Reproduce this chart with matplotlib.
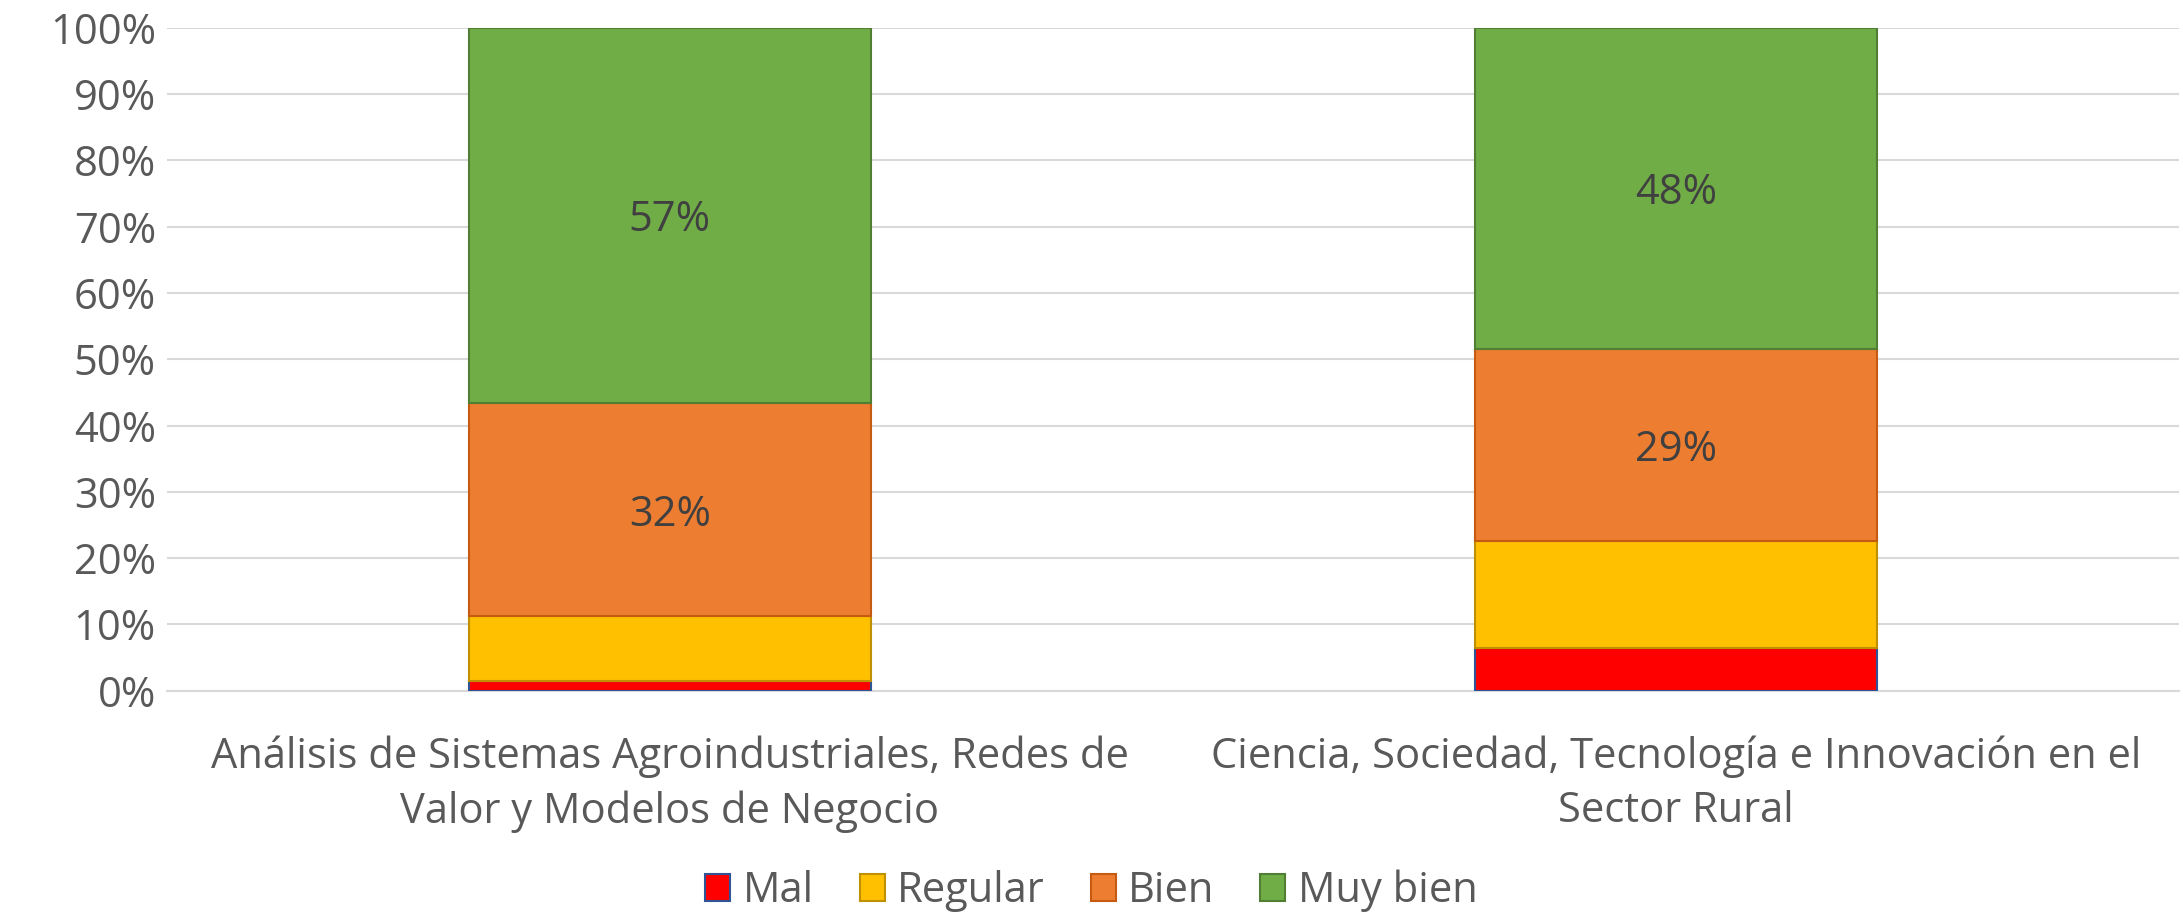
import matplotlib
matplotlib.use("Agg")
import matplotlib.pyplot as plt
import numpy as np

categories = ["Análisis de Sistemas Agroindustriales, Redes de\nValor y Modelos de Negocio",
              "Ciencia, Sociedad, Tecnología e Innovación en el\nSector Rural"]
series_names = ["Mal", "Regular", "Bien", "Muy bien"]
mal = [1.4, 6.5]
regular = [9.8, 16.1]
bien = [32.2, 29.0]
muy_bien = [56.6, 48.4]
show_labels = [False, False, True, True]

colors = ["#FF0000", "#FFC000", "#ED7D31", "#70AD47"]
edges = ["#2F5597", "#BF9000", "#C55A11", "#507E32"]

plt.rcParams['font.family'] = ['Open Sans', 'DejaVu Sans']
txt = "#595959"
fs = 30

fig = plt.figure(figsize=(21.83, 9.13), dpi=100)
ax = fig.add_axes([0.0765, 0.2435, 0.9215, 0.726])

x = np.arange(len(categories))
bottom = np.zeros(len(categories))
for vals, name, c, e, lab in zip([mal, regular, bien, muy_bien], series_names, colors, edges, show_labels):
    vals = np.array(vals)
    ax.bar(x, vals, 0.4, bottom=bottom, color=c, edgecolor=e, linewidth=1.5, label=name, zorder=3)
    if lab:
        for xi, v, bt in zip(x, vals, bottom):
            ax.text(xi, bt + v / 2, f"{v:.0f}%", ha="center", va="center_baseline",
                    fontsize=fs, color="#404040", zorder=4)
    bottom += vals

ax.set_xlim(-0.5, 1.5)
ax.set_ylim(0, 100)
ax.set_yticks(np.arange(0, 101, 10))
ax.set_yticklabels([f"{t}%" for t in range(0, 101, 10)])
ax.set_xticks(x)
ax.set_xticklabels(categories)
ax.tick_params(axis="both", length=0, labelsize=fs, labelcolor=txt)
ax.tick_params(axis="y", pad=8)
ax.tick_params(axis="x", pad=32)
for lbl in ax.get_xticklabels():
    lbl.set_linespacing(1.4)
ax.grid(axis="y", color="#D9D9D9", linewidth=1.5, zorder=0)
for s in ["top", "right", "left"]:
    ax.spines[s].set_visible(False)
ax.spines["bottom"].set_color("#D9D9D9")
ax.spines["bottom"].set_linewidth(1.5)

fig.legend(loc="lower center", bbox_to_anchor=(0.5, -0.04), ncol=4, frameon=False,
           fontsize=fs, labelcolor=txt, handlelength=0.6, handleheight=0.6,
           handletextpad=0.3, columnspacing=1.1)

fig.savefig("out.png", dpi=100)
